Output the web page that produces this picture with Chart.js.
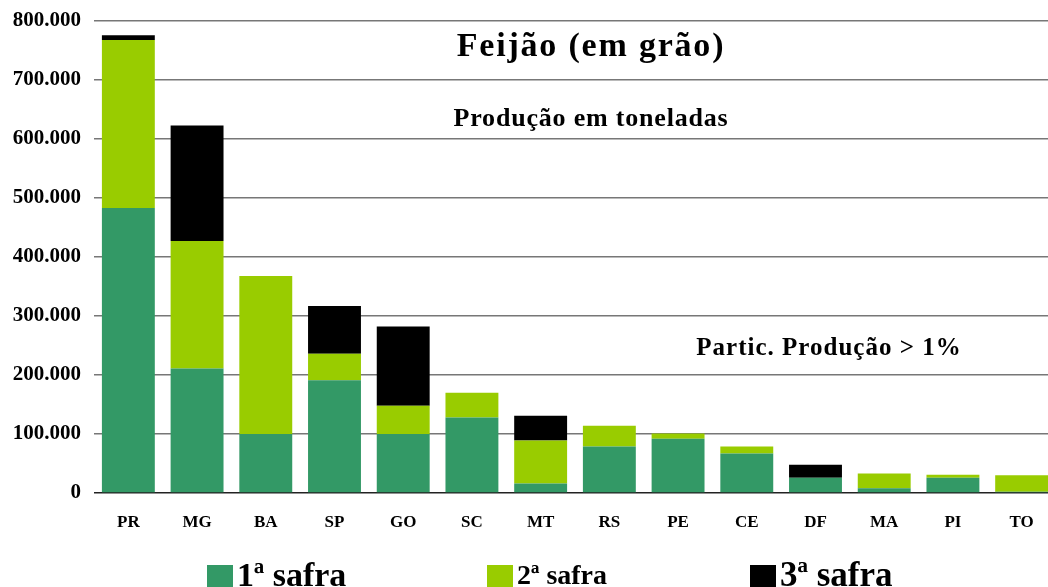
<!DOCTYPE html>
<html lang="pt">
<head>
<meta charset="UTF-8">
<title>Feijão (em grão)</title>
<script src="https://cdn.jsdelivr.net/npm/chart.js"></script>
<style>
  html, body { margin: 0; padding: 0; background: #fff; overflow: hidden; }
  #wrap { width: 1060px; height: 587px; }
</style>
</head>
<body>
<div id="wrap"><canvas id="chart"></canvas></div>
<script>
// estados com participação > 1% na produção (toneladas)
const estados = ['PR', 'MG', 'BA', 'SP', 'GO', 'SC', 'MT', 'RS', 'PE', 'CE', 'DF', 'MA', 'PI', 'TO'];
const safra1 = [483000, 211000, 100000, 191000, 100000, 128000, 16000, 79000, 92000, 67000, 26000, 8000, 26000, 2000];
const safra2 = [285000, 216000, 268000, 45000, 48000, 42000, 73000, 35000, 9000, 12000, 0, 25000, 5000, 28000];
const safra3 = [8000, 196000, 0, 81000, 134000, 0, 42000, 0, 0, 0, 22000, 0, 0, 0];
const yTicks = [0, 100000, 200000, 300000, 400000, 500000, 600000, 700000, 800000];

const serif = '"Liberation Serif", "Times New Roman", serif';

// textos soltos + legenda desenhados no canvas
const extras = {
    id: 'extras',
    afterDraw(chart) {
        const ctx = chart.ctx;
        ctx.save();
        ctx.fillStyle = '#000';
        ctx.textBaseline = 'middle';
        ctx.textAlign = 'center';
        ctx.letterSpacing = '1.8px';
        ctx.font = 'bold 34px ' + serif;
        ctx.fillText('Feijão (em grão)', 591, 47);
        ctx.letterSpacing = '0.8px';
        ctx.font = 'bold 26px ' + serif;
        ctx.fillText('Produção em toneladas', 591, 119);
        ctx.letterSpacing = '1px';
        ctx.font = 'bold 25px ' + serif;
        ctx.fillText('Partic. Produção > 1%', 829, 349);
        ctx.letterSpacing = '0px';

        // legenda
        const items = [
            { x: 207, size: 34 },
            { x: 487, size: 28 },
            { x: 750, size: 35 }
        ];
        ctx.textAlign = 'left';
        chart.data.datasets.forEach((ds, i) => {
            const it = items[i];
            ctx.fillStyle = ds.backgroundColor;
            ctx.fillRect(it.x, 565, 26, 22);
            ctx.fillStyle = '#000';
            ctx.font = 'bold ' + it.size + 'px ' + serif;
            ctx.fillText(ds.label, it.x + 30, 577);
        });
        ctx.restore();
    }
};

new Chart(document.getElementById('chart'), {
    type: 'bar',
    data: {
        labels: estados,
        datasets: [
            { label: '1ª safra', data: safra1, backgroundColor: '#339966' },
            { label: '2ª safra', data: safra2, backgroundColor: '#99CC00' },
            { label: '3ª safra', data: safra3, backgroundColor: '#000000' }
        ]
    },
    options: {
        responsive: true,
        maintainAspectRatio: false,
        animation: false,
        layout: { padding: { top: 21, right: 4 } },
        datasets: { bar: { categoryPercentage: 1, barPercentage: 0.77 } },
        plugins: { legend: { display: false }, tooltip: { enabled: false } },
        scales: {
            x: {
                stacked: true,
                grid: { display: false },
                border: { display: false },
                ticks: { color: '#000', font: { family: serif, size: 17, weight: 'bold' }, padding: 11 },
                afterFit(scale) { scale.height = 94; }
            },
            y: {
                stacked: true,
                min: 0,
                max: 800000,
                afterBuildTicks(scale) { scale.ticks = yTicks.map(v => ({ value: v })); },
                grid: {
                    color: ctx => ctx.tick && ctx.tick.value === 0 ? '#222' : '#777',
                    lineWidth: 1.5,
                    drawTicks: false
                },
                border: { display: false },
                ticks: {
                    color: '#000',
                    padding: 13,
                    font: { family: serif, size: 21, weight: 'bold' },
                    callback: v => v.toLocaleString('de-DE')
                },
                afterFit(scale) {
                    scale.width = 94;
                    scale.paddingTop = 0;
                    scale.paddingBottom = 0;
                }
            }
        }
    },
    plugins: [extras]
});
</script>
</body>
</html>
